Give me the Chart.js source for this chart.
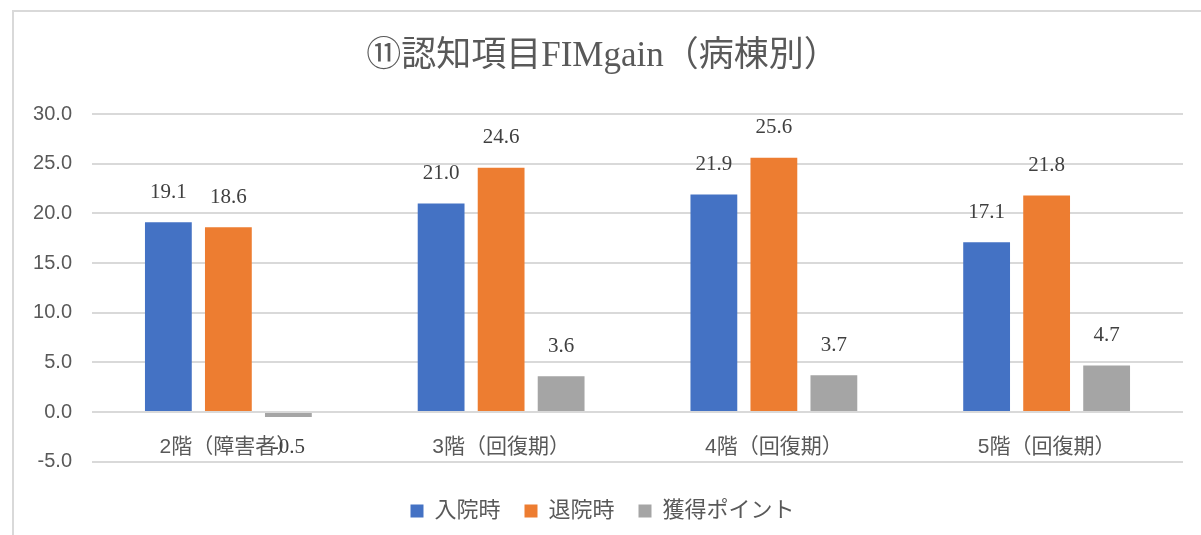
<!DOCTYPE html>
<html><head><meta charset="utf-8">
<script src="https://cdn.jsdelivr.net/npm/chart.js@4"></script>
<style>
html,body{margin:0;padding:0;background:#fff;overflow:hidden;}
#wrap{position:relative;width:1201px;height:535px;}
#frame{position:absolute;left:12px;top:10px;width:1200px;height:540px;border:2px solid #d9d9d9;box-sizing:border-box;pointer-events:none}
canvas{position:absolute;left:0;top:0}
</style></head><body>
<div id="wrap"><canvas id="c" width="1201" height="535"></canvas><div id="frame"></div></div>
<script>
const titleText = '⑪認知項目FIMgain（病棟別）';
const categories = ['2階（障害者）', '3階（回復期）', '4階（回復期）', '5階（回復期）'];
const seriesNames = ['入院時', '退院時', '獲得ポイント'];
const admission = [19.1, 21.0, 21.9, 17.1];
const discharge = [18.6, 24.6, 25.6, 21.8];
const gain = [-0.5, 3.6, 3.7, 4.7];
const seriesColors = ['#4472C4', '#ED7D31', '#A5A5A5'];
const yMin = -5, yMax = 30, yStep = 5;

const serif = '"Liberation Serif", "Noto Sans CJK JP", serif';
const sans = '"Liberation Sans", "Noto Sans CJK JP", sans-serif';

const valueLabels = {
  id: 'valueLabels',
  afterDatasetsDraw(chart) {
    const ctx = chart.ctx;
    ctx.save();
    ctx.font = '21px ' + serif;
    ctx.fillStyle = '#404040';
    ctx.textAlign = 'center';
    ctx.textBaseline = 'middle';
    chart.data.datasets.forEach((ds, i) => {
      chart.getDatasetMeta(i).data.forEach((bar, j) => {
        const v = ds.data[j];
        const y = v >= 0 ? bar.y - 30 : bar.y + 30;
        ctx.fillText(v.toFixed(1), bar.x, y);
      });
    });
    ctx.restore();
  }
};

const seriesData = [admission, discharge, gain];

new Chart(document.getElementById('c'), {
  type: 'bar',
  data: {
    labels: categories,
    datasets: seriesNames.map((name, i) => ({
      label: name,
      data: seriesData[i],
      backgroundColor: seriesColors[i],
      borderWidth: 0,
      categoryPercentage: 0.66,
      barPercentage: 0.78
    }))
  },
  options: {
    responsive: false,
    devicePixelRatio: 1,
    animation: false,
    layout: { padding: { left: 22, right: 18, top: 0, bottom: 3 } },
    plugins: {
      title: {
        display: true,
        text: titleText,
        color: '#595959',
        font: { family: serif, size: 35, weight: 'normal', lineHeight: 1.2 },
        padding: { top: 36, bottom: 36 }
      },
      legend: {
        position: 'bottom',
        title: { display: true, text: '', padding: { top: 13, bottom: 0 }, font: { size: 1 } },
        labels: {
          color: '#595959',
          font: { family: serif, size: 22 },
          boxWidth: 13,
          boxHeight: 13,
          padding: 24
        }
      },
      tooltip: { enabled: false }
    },
    scales: {
      x: {
        position: { y: 0 },
        grid: { display: false, drawTicks: false },
        border: { display: false },
        ticks: { color: '#595959', font: { family: sans, size: 21 }, padding: 22, maxRotation: 0 }
      },
      y: {
        min: yMin,
        max: yMax,
        afterFit(scale) { scale.width = 70; },
        grid: { color: '#d9d9d9', lineWidth: 2, drawTicks: false },
        border: { display: false },
        ticks: {
          stepSize: yStep,
          padding: 20,
          color: '#595959',
          font: { family: sans, size: 20 },
          callback: v => Number(v).toFixed(1)
        }
      }
    }
  },
  plugins: [valueLabels]
});
</script>
</body></html>
